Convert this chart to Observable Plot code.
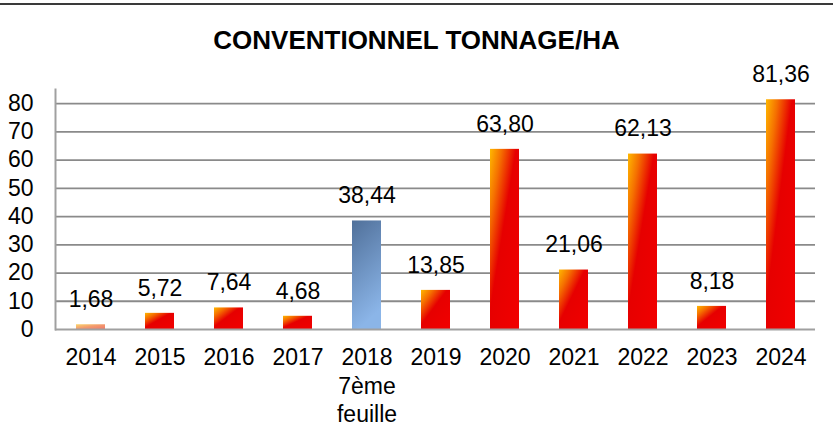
<!DOCTYPE html>
<html>
<head>
<meta charset="utf-8">
<script src="https://cdn.jsdelivr.net/npm/d3@7"></script>
<script src="https://cdn.jsdelivr.net/npm/@observablehq/plot@0.6"></script>
<style>
  html, body { margin: 0; padding: 0; background: #fff; }
  body { width: 833px; height: 440px; position: relative; overflow: hidden; font-family: "Liberation Sans", Arial, sans-serif; }
  #topline { position: absolute; left: 0; top: 3px; width: 833px; height: 2px; background: #3a3a3a; }
  #title { height: 60px; box-sizing: border-box; padding-top: 25px; line-height: 30px; text-align: center; font-weight: bold; font-size: 26px; color: #000; padding-left: 0px; }
  #chart svg { display: block; }
</style>
</head>
<body>
<div id="topline"></div>
<svg width="0" height="0" style="position:absolute">
  <defs>
    <linearGradient id="gRed" x1="0" y1="0" x2="1" y2="1">
      <stop offset="0" stop-color="#FFB800"/>
      <stop offset="0.2" stop-color="#F57000"/>
      <stop offset="0.45" stop-color="#E60000"/>
      <stop offset="1" stop-color="#F20000"/>
    </linearGradient>
    <linearGradient id="gLight" x1="0" y1="0" x2="1" y2="1">
      <stop offset="0" stop-color="#FAD56C"/>
      <stop offset="0.5" stop-color="#F39A6E"/>
      <stop offset="1" stop-color="#F07A6A"/>
    </linearGradient>
    <linearGradient id="gBlue" x1="0" y1="0" x2="0.25" y2="1">
      <stop offset="0" stop-color="#50709A"/>
      <stop offset="1" stop-color="#8BB5E8"/>
    </linearGradient>
  </defs>
</svg>
<div id="title">CONVENTIONNEL TONNAGE/HA</div>
<div id="chart"></div>
<script>
const years = ["2014","2015","2016","2017","2018","2019","2020","2021","2022","2023","2024"];
const values = [1.68, 5.72, 7.64, 4.68, 38.44, 13.85, 63.80, 21.06, 62.13, 8.18, 81.36];
const yearNotes = ["", "", "", "", "7ème\nfeuille", "", "", "", "", "", ""];
const yTicks = [0, 10, 20, 30, 40, 50, 60, 70, 80];

const data = years.map((y, i) => ({year: y, value: values[i], note: yearNotes[i]}));
const fmt = v => v.toFixed(2).replace(".", ",");
const fillFor = d => d.year === "2014" ? "url(#gLight)" : d.year === "2018" ? "url(#gBlue)" : "url(#gRed)";

const chart = Plot.plot({
  width: 833,
  height: 380,
  marginTop: 29,
  marginBottom: 111,
  marginLeft: 55,
  marginRight: 18,
  style: {fontFamily: "'Liberation Sans', Arial, sans-serif", color: "#000", background: "#fff"},
  x: {domain: years, paddingInner: 0.58, paddingOuter: 0.29, axis: null},
  y: {domain: [0, 85], axis: null},
  color: {type: "identity"},
  marks: [
    Plot.ruleY(yTicks.filter(t => t > 0), {stroke: "#8a8a8a", strokeWidth: 1.8, strokeOpacity: 1}),
    Plot.barY(data, {x: "year", y: "value", fill: fillFor}),
    Plot.ruleY([0], {stroke: "#a0a0a0", strokeWidth: 2}),
    Plot.frame({anchor: "left", stroke: "#a0a0a0", strokeWidth: 2}),
    Plot.axisY({ticks: yTicks, tickSize: 0, tickPadding: 22, fontSize: 23, label: null, tickFormat: d => String(d)}),
    Plot.text(data, {x: "year", y: "value", text: d => fmt(d.value), dy: -25, fontSize: 23, lineAnchor: "middle", fill: "#000"}),
    Plot.text(data, {x: "year", y: () => 0, text: d => d.note ? d.year + "\n" + d.note : d.year, dy: 15, lineAnchor: "top", lineHeight: 1.25, fontSize: 23, fill: "#000"})
  ]
});
document.getElementById("chart").appendChild(chart);
</script>
</body>
</html>
